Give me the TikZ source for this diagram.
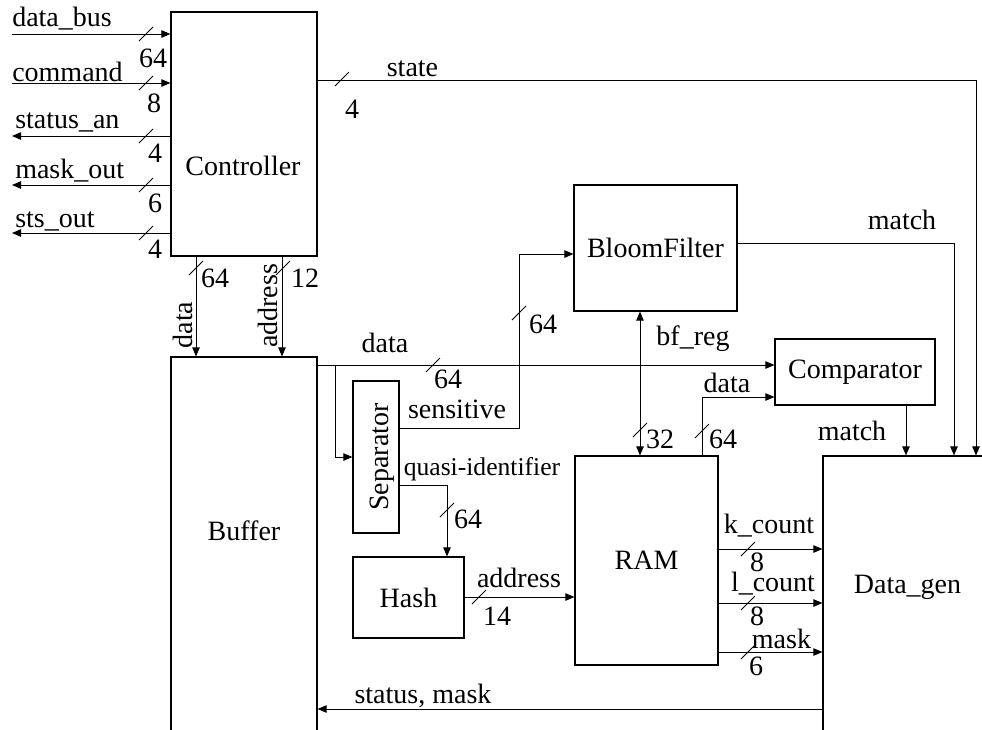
\documentclass[tikz,border=0pt]{standalone}
\usepackage{fontspec}
\setmainfont{Liberation Serif}
\usetikzlibrary{arrows.meta,calc}

\tikzset{
  box/.style={draw, line width=0.9pt, rectangle, inner sep=0pt},
  sig/.style={draw, line width=0.7pt},
  arr/.style={sig, -{Triangle[length=6.75pt,width=5.6pt]}},
  darr/.style={sig, {Triangle[length=6.75pt,width=5.6pt]}-{Triangle[length=6.75pt,width=5.6pt]}},
  lbl/.style={inner sep=0pt, anchor=base},
  llbl/.style={inner sep=0pt, anchor=base west},
  vlbl/.style={inner sep=0pt, anchor=base, rotate=90},
  busmark/.pic={\draw[line width=0.6pt] (-7,7) -- (7,-7);},
}

\begin{document}
\begin{tikzpicture}[x=0.75pt, y=-0.75pt, font=\fontsize{21}{24}\selectfont]
\useasboundingbox (0,0) rectangle (982,729);
\clip (0,0) rectangle (982,729);

% ---- blocks ----
\node[box, minimum width=146*0.75pt, minimum height=244*0.75pt] (ctrl) at (244,134) {};
\node[box, minimum width=146*0.75pt, minimum height=406*0.75pt] (buf) at (244,560) {};
\node[box, minimum width=163*0.75pt, minimum height=126*0.75pt] (bloom) at (655.5,248) {BloomFilter};
\node[box, minimum width=160*0.75pt, minimum height=66*0.75pt] (cmp) at (855,372) {Comparator};
\node[box, minimum width=143*0.75pt, minimum height=209*0.75pt] (ram) at (646.5,560.5) {RAM};
\node[box, minimum width=46*0.75pt, minimum height=152*0.75pt] (sep) at (376,457) {};
\node[box, minimum width=111*0.75pt, minimum height=81*0.75pt] (hash) at (408.5,597.5) {Hash};
\node[box, minimum width=300*0.75pt, minimum height=400*0.75pt] (dgen) at (973,656) {};

% block titles that sit off-centre
\node[inner sep=0pt] at (243,166) {Controller};
\node[lbl] at (244,540) {Buffer};
\node[lbl] at (907.5,593) {Data\_gen};
\node[vlbl] at (388,457) {Separator};

% ---- controller ports ----
\coordinate (dbus) at (12,34);
\coordinate (cmd)  at (12,83);
\coordinate (stan) at (12,136);
\coordinate (mout) at (12,185);
\coordinate (sout) at (12,233);
\draw[arr] (dbus) -- (dbus -| ctrl.west);
\draw[arr] (cmd) -- (cmd -| ctrl.west);
\draw[arr] (stan -| ctrl.west) -- (stan);
\draw[arr] (mout -| ctrl.west) -- (mout);
\draw[arr] (sout -| ctrl.west) -- (sout);

\node[llbl] at (12,26.7) {data\_bus};
\node[llbl] at (12,81) {command};
\node[llbl] at (15,128) {status\_an};
\node[llbl] at (15,178) {mask\_out};
\node[llbl] at (15,227) {sts\_out};
\node[lbl] at (153,67) {64};
\node[lbl] at (154,112) {8};
\node[lbl] at (155,162) {4};
\node[lbl] at (155,212) {6};
\node[lbl] at (155,258) {4};
\foreach \y in {34,83,136,185,233} \pic at (146,\y) {busmark};

% ---- state ----
\coordinate (stR) at (976,80);
\draw[arr] (stR -| ctrl.east) -- (stR) -- (stR |- dgen.north);
\pic at (342,79) {busmark};
\node[lbl] at (412.5,76) {state};
\node[lbl] at (352,118) {4};

% ---- controller to buffer ----
\coordinate (cd) at (196,0);
\coordinate (ca) at (282,0);
\draw[arr] (cd |- ctrl.south) -- (cd |- buf.north);
\draw[arr] (ca |- ctrl.south) -- (ca |- buf.north);
\pic at (196,268) {busmark};
\pic at (283,268) {busmark};
\node[lbl] at (215,287) {64};
\node[lbl] at (305,287) {12};
\node[vlbl] at (192,325) {data};
\node[vlbl] at (277,306) {address};

% ---- buffer data bus ----
\coordinate (bd) at (0,365);
\coordinate (br) at (335,365);
\coordinate (brD) at (335,457);
\draw[arr] (bd -| buf.east) -- (bd -| cmp.west);
\draw[arr] (br) -- (brD) -- (brD -| sep.west);
\pic at (433,365) {busmark};
\node[lbl] at (385,352) {data};
\node[lbl] at (448,388) {64};

% ---- separator outputs ----
\coordinate (sv) at (519,428);
\coordinate (svU) at (519,254);
\draw[arr] (sv -| sep.east) -- (sv) -- (svU) -- (svU -| bloom.west);
\pic at (519,313) {busmark};
\node[lbl] at (457,418) {sensitive};
\node[lbl] at (543,333) {64};

\coordinate (qi) at (447,485);
\draw[arr] (qi -| sep.east) -- (qi) -- (qi |- hash.north);
\pic at (447,510) {busmark};
\node[lbl, font=\fontsize{19.2}{22}\selectfont] at (482,475) {quasi-identifier};
\node[lbl] at (468,528) {64};

% ---- hash to RAM ----
\coordinate (ha) at (0,597);
\draw[arr] (ha -| hash.east) -- (ha -| ram.west);
\pic at (479,597) {busmark};
\node[lbl] at (519,587) {address};
\node[lbl] at (497,625) {14};

% ---- bloom filter register ----
\coordinate (bf) at (640,0);
\draw[darr] (bf |- bloom.south) -- (bf |- ram.north);
\pic at (640,430) {busmark};
\node[lbl] at (693,345) {bf\_reg};
\node[lbl] at (660,448) {32};

% ---- RAM data to comparator ----
\coordinate (rd) at (702,397);
\draw[arr] (rd |- ram.north) -- (rd) -- (rd -| cmp.west);
\pic at (702,431) {busmark};
\node[lbl] at (727,392) {data};
\node[lbl] at (723,448) {64};

% ---- match lines ----
\coordinate (bm) at (954,243);
\draw[arr] (bm -| bloom.east) -- (bm) -- (bm |- dgen.north);
\node[lbl] at (902,229) {match};
\coordinate (cm) at (906,0);
\draw[arr] (cm |- cmp.south) -- (cm |- dgen.north);
\node[lbl] at (852,440) {match};

% ---- RAM outputs ----
\coordinate (kc) at (0,549);
\coordinate (lc) at (0,603);
\coordinate (mk) at (0,652);
\draw[arr] (kc -| ram.east) -- (kc -| dgen.west);
\draw[arr] (lc -| ram.east) -- (lc -| dgen.west);
\draw[arr] (mk -| ram.east) -- (mk -| dgen.west);
\foreach \y in {549,603,652} \pic at (748,\y) {busmark};
\node[lbl] at (769,533) {k\_count};
\node[lbl] at (757,571) {8};
\node[lbl] at (773,591) {l\_count};
\node[lbl] at (757,625) {8};
\node[lbl] at (781.5,648) {mask};
\node[lbl] at (756,675) {6};

% ---- status back to buffer ----
\coordinate (sm) at (0,709);
\draw[arr] (sm -| dgen.west) -- (sm -| buf.east);
\node[lbl] at (423,703) {status, mask};
\end{tikzpicture}
\end{document}
